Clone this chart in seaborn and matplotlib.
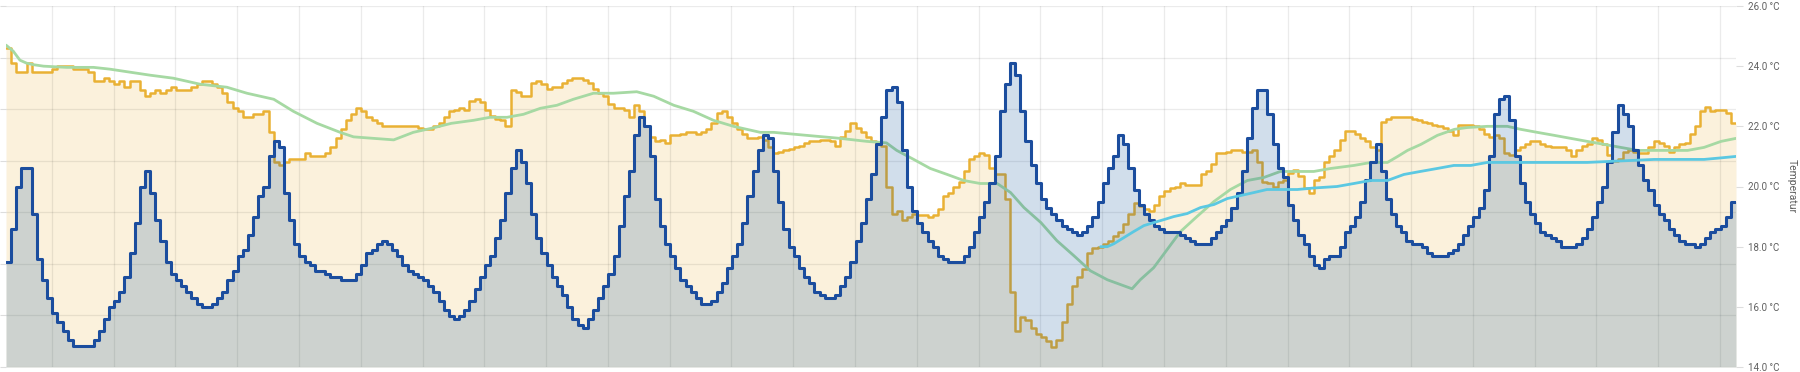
import numpy as np
import pandas as pd
import matplotlib
matplotlib.use("Agg")
import matplotlib.pyplot as plt
import seaborn as sns

# ---- data (hourly readings, 14 days) ----
outdoor = [
    17.5, 18.6, 20.0, 20.6, 20.6, 19.1, 17.6, 16.9, 16.3, 15.8,
    15.5, 15.2, 14.9, 14.7, 14.7, 14.7, 14.7, 14.9, 15.2, 15.6,
    16.0, 16.2, 16.5, 17.0, 17.8, 18.8, 20.0, 20.5, 19.8, 18.9,
    18.2, 17.5, 17.1, 16.9, 16.7, 16.5, 16.3, 16.1, 16.0, 16.0,
    16.1, 16.3, 16.5, 16.9, 17.2, 17.7, 17.9, 18.4, 19.0, 19.7,
    20.0, 21.0, 21.5, 21.3, 19.8, 18.9, 18.1, 17.7, 17.5, 17.4,
    17.2, 17.2, 17.1, 17.0, 17.0, 16.9, 16.9, 16.9, 17.1, 17.4,
    17.8, 17.9, 18.1, 18.2, 18.1, 17.9, 17.7, 17.4, 17.2, 17.1,
    17.0, 16.9, 16.7, 16.5, 16.2, 15.9, 15.7, 15.6, 15.7, 15.9,
    16.2, 16.6, 17.0, 17.4, 17.7, 18.3, 18.9, 19.8, 20.6, 21.2,
    20.8, 20.1, 19.1, 18.3, 17.8, 17.4, 17.0, 16.7, 16.4, 16.0,
    15.6, 15.4, 15.3, 15.6, 15.9, 16.3, 16.7, 17.1, 17.7, 18.7,
    19.7, 20.5, 21.7, 22.3, 22.0, 21.0, 19.6, 18.7, 18.1, 17.7,
    17.3, 16.9, 16.7, 16.5, 16.3, 16.1, 16.1, 16.2, 16.5, 16.8,
    17.3, 17.7, 18.1, 18.8, 19.7, 20.5, 21.2, 21.7, 21.6, 20.5,
    19.5, 18.6, 18.0, 17.7, 17.3, 17.0, 16.8, 16.5, 16.4, 16.3,
    16.3, 16.4, 16.7, 17.0, 17.5, 18.2, 18.8, 19.6, 20.4, 21.4,
    22.3, 23.2, 23.3, 22.8, 21.2, 20.0, 19.2, 18.8, 18.5, 18.2,
    18.0, 17.7, 17.6, 17.5, 17.5, 17.5, 17.7, 18.0, 18.5, 19.0,
    19.5, 20.1, 21.0, 22.5, 23.4, 24.1, 23.7, 22.5, 21.5, 20.7,
    20.1, 19.6, 19.3, 19.1, 18.9, 18.7, 18.6, 18.5, 18.4, 18.5,
    18.7, 19.0, 19.5, 20.1, 20.6, 21.0, 21.7, 21.4, 20.6, 19.9,
    19.4, 19.1, 18.9, 18.7, 18.6, 18.5, 18.5, 18.5, 18.4, 18.3,
    18.2, 18.1, 18.1, 18.1, 18.3, 18.5, 18.7, 18.9, 19.3, 19.8,
    20.5, 21.6, 22.6, 23.2, 23.2, 22.4, 21.4, 20.6, 20.3, 19.4,
    18.9, 18.4, 18.1, 17.7, 17.4, 17.3, 17.6, 17.7, 17.7, 18.0,
    18.5, 18.7, 19.0, 19.5, 20.2, 20.8, 21.4, 20.5, 19.6, 19.1,
    18.7, 18.5, 18.2, 18.1, 18.1, 18.0, 17.8, 17.7, 17.7, 17.7,
    17.8, 17.9, 18.1, 18.4, 18.7, 19.0, 19.3, 19.9, 21.0, 22.4,
    22.9, 23.0, 22.2, 21.0, 20.1, 19.5, 19.1, 18.8, 18.5, 18.4,
    18.3, 18.2, 18.0, 18.0, 18.0, 18.1, 18.3, 18.6, 19.0, 19.5,
    20.0, 20.8, 21.8, 22.7, 22.4, 22.0, 21.2, 20.7, 20.2, 19.9,
    19.4, 19.1, 18.9, 18.6, 18.4, 18.2, 18.1, 18.1, 18.0, 18.1,
    18.3, 18.5, 18.6, 18.7, 19.0, 19.5,
]

room = [
    24.6, 24.1, 23.8, 23.8, 24.1, 23.8, 23.8, 23.8, 23.8, 23.9,
    24.0, 24.0, 24.0, 23.9, 23.9, 23.9, 23.8, 23.5, 23.5, 23.6,
    23.5, 23.4, 23.5, 23.3, 23.5, 23.5, 23.2, 23.0, 23.1, 23.2,
    23.1, 23.2, 23.3, 23.2, 23.2, 23.2, 23.3, 23.4, 23.5, 23.5,
    23.4, 23.3, 23.1, 22.8, 22.6, 22.5, 22.3, 22.3, 22.4, 22.4,
    22.5, 21.8, 20.8, 20.7, 20.8, 20.9, 20.9, 20.9, 21.1, 21.0,
    21.0, 21.0, 21.1, 21.3, 21.6, 21.9, 22.2, 22.4, 22.6, 22.5,
    22.3, 22.2, 22.1, 22.0, 22.0, 22.0, 22.0, 22.0, 22.0, 22.0,
    21.95, 21.9, 21.9, 22.0, 22.1, 22.3, 22.5, 22.55, 22.6, 22.55,
    22.85, 22.9, 22.8, 22.55, 22.35, 22.25, 22.2, 22.0, 23.2, 23.15,
    23.0, 23.0, 23.45, 23.5, 23.4, 23.25, 23.3, 23.3, 23.45, 23.55,
    23.6, 23.6, 23.55, 23.45, 23.25, 23.1, 23.0, 22.75, 22.6, 22.6,
    22.55, 22.3, 22.7, 22.5, 22.0, 21.65, 21.5, 21.55, 21.45, 21.7,
    21.7, 21.75, 21.8, 21.8, 21.75, 21.8, 21.9, 22.1, 22.45, 22.5,
    22.3, 22.1, 21.9, 21.75, 21.6, 21.6, 21.65, 21.55, 21.3, 21.1,
    21.15, 21.2, 21.25, 21.3, 21.35, 21.45, 21.5, 21.5, 21.55, 21.55,
    21.5, 21.35, 21.65, 21.85, 22.1, 21.95, 21.8, 21.65, 21.5, 21.4,
    21.35, 20.0, 19.1, 19.2, 18.9, 19.0, 19.1, 19.05, 19.05, 19.0,
    19.05, 19.25, 19.7, 19.8, 20.0, 20.15, 20.5, 20.9, 21.0, 21.1,
    21.05, 20.6, 20.4, 20.4, 19.6, 16.5, 15.2, 15.65, 15.55, 15.3,
    15.1, 15.0, 14.85, 14.65, 14.9, 15.5, 16.1, 16.7, 17.0, 17.25,
    17.8, 17.95, 18.0, 18.1, 18.2, 18.35, 18.5, 18.75, 19.1, 19.45,
    19.35, 19.25, 19.2, 19.4, 19.7, 19.85, 19.95, 20.0, 20.1, 20.05,
    20.05, 20.05, 20.4, 20.5, 20.75, 21.1, 21.1, 21.15, 21.2, 21.2,
    21.15, 21.15, 21.2, 20.8, 20.15, 20.1, 20.0, 20.15, 20.2, 20.45,
    20.55, 20.35, 19.95, 19.8, 20.2, 20.3, 20.8, 21.0, 21.2, 21.55,
    21.85, 21.85, 21.75, 21.6, 21.5, 21.3, 21.2, 22.15, 22.25, 22.3,
    22.3, 22.3, 22.3, 22.25, 22.2, 22.15, 22.1, 22.05, 22.0, 21.95,
    21.85, 21.7, 22.05, 22.05, 22.05, 22.0, 21.9, 21.75, 21.65, 21.7,
    21.6, 21.1, 21.05, 21.2, 21.3, 21.4, 21.5, 21.5, 21.4, 21.35,
    21.3, 21.3, 21.3, 21.2, 21.0, 21.2, 21.35, 21.4, 21.6, 21.55,
    21.4, 21.05, 20.85, 20.9, 21.15, 21.2, 21.15, 21.1, 21.1, 21.3,
    21.5, 21.45, 21.35, 21.15, 21.3, 21.4, 21.45, 21.75, 22.0, 22.5,
    22.65, 22.5, 22.55, 22.55, 22.45, 22.1,
]

avg_hours = [
    0, 1.4, 2.7, 4, 5.3, 7.3, 11.8, 17, 20.2, 24.1, 28, 32.5, 37.7, 42.9,
    46.8, 52, 55.8, 60.4, 64.9, 67.5, 71.4, 75.3, 79.1, 83, 86.5, 90.8, 94,
    97.3, 100.5, 103.8, 107, 110.2, 114.1, 118, 122.5, 125.8, 129.7, 133.5,
    137.4, 141.3, 146.5, 149.1, 155.5, 162, 167.2, 171, 173, 176.3, 179.5,
    182.8, 186, 189.2, 192.5, 195.1, 197.7, 201, 204.1, 207.4, 210.6, 213.9,
    217.1, 218.7, 220.3, 222.9, 225.5, 228.1, 231.3, 234.6, 237.8, 241.1,
    244.3, 247.5, 250.8, 254, 257.3, 261.8, 265.1, 268.3, 270.3, 272.2,
    274.8, 278, 281.3, 283.8, 287.7, 291.6, 294.2, 297.4, 300.7, 303.9,
    307.1, 310.4, 313.6, 316.9, 320.1, 323.4, 326.6, 329.8, 333.1, 336,
]
avg_temp = [
    24.7, 24.5, 24.2, 24.1, 24.05, 24.0, 23.96, 23.96, 23.9, 23.8, 23.7,
    23.6, 23.4, 23.3, 23.1, 22.9, 22.5, 22.1, 21.8, 21.65, 21.6, 21.55,
    21.8, 21.95, 22.1, 22.2, 22.3, 22.3, 22.4, 22.6, 22.7, 22.9, 23.1,
    23.1, 23.15, 23.0, 22.7, 22.5, 22.2, 22.0, 21.8, 21.8, 21.7, 21.6,
    21.5, 21.45, 21.2, 20.9, 20.6, 20.4, 20.2, 20.1, 20.1, 19.8, 19.3,
    18.8, 18.2, 17.7, 17.2, 16.9, 16.7, 16.6, 16.9, 17.3, 17.9, 18.5,
    19.0, 19.5, 19.9, 20.2, 20.3, 20.5, 20.5, 20.5, 20.6, 20.7, 20.8,
    20.8, 21.0, 21.2, 21.4, 21.7, 21.9, 21.96, 22.0, 22.0, 21.9, 21.8,
    21.7, 21.6, 21.5, 21.4, 21.3, 21.2, 21.2, 21.2, 21.2, 21.3, 21.5, 21.6,
]

floor_hours = [
    212.6, 213.9, 215.2, 217.1, 219.0, 221.0, 222.9, 224.9, 226.8, 229.4,
    232.0, 234.6, 237.2, 239.8, 242.4, 244.9, 247.5, 250.8, 254.0, 258.5,
    261.8, 265.0, 268.3, 271.5, 274.7, 278.0, 281.2, 284.5, 287.7, 291.0,
    294.2, 300.7, 307.1, 313.6, 320.1, 326.6, 329.8, 333.0, 336.0,
]
floor_temp = [
    18.0, 18.0, 18.1, 18.3, 18.5, 18.7, 18.8, 18.9, 19.0, 19.1,
    19.3, 19.4, 19.6, 19.7, 19.8, 19.9, 19.9, 19.9, 19.95, 20.0,
    20.1, 20.2, 20.2, 20.4, 20.5, 20.6, 20.7, 20.7, 20.8, 20.8,
    20.8, 20.8, 20.8, 20.85, 20.9, 20.9, 20.9, 20.95, 21.0,
]

y_ticks = [14, 16, 18, 20, 22, 24, 26]

# step series: repeat last value so the final step reaches the right edge
hours = np.arange(len(outdoor) + 1)
steps = pd.DataFrame({
    "hour": hours,
    "outdoor": outdoor + [outdoor[-1]],
    "room": room + [room[-1]],
})
avg = pd.DataFrame({"hour": avg_hours, "temp": avg_temp})
floor = pd.DataFrame({"hour": floor_hours, "temp": floor_temp})

sns.set_theme(style="white")
plt.rcParams["font.family"] = ["Roboto", "DejaVu Sans"]

fig = plt.figure(figsize=(18, 3.72), dpi=100)
ax = fig.add_axes([6 / 1800, 5 / 372, 1730 / 1800, 361 / 372])

ymin, ymax = 14, 26
ax.set_xlim(0, 336)
ax.set_ylim(ymin, ymax)

# fills
ax.fill_between(steps["hour"], ymin, steps["room"], step="post",
                color="#fbf1dc", linewidth=0, zorder=1)
sns.lineplot(data=steps, x="hour", y="room", drawstyle="steps-post",
             color="#e9b134", linewidth=1.8, ax=ax, zorder=2)
sns.lineplot(data=avg, x="hour", y="temp", color="#a6d9a3",
             linewidth=2.0, ax=ax, zorder=2)
ax.fill_between(steps["hour"], ymin, steps["outdoor"], step="post",
                color="#004a94", alpha=0.18, linewidth=0, zorder=2.5)
sns.lineplot(data=steps, x="hour", y="outdoor", drawstyle="steps-post",
             color="#1b4d9e", linewidth=2.2, ax=ax, zorder=3)
sns.lineplot(data=floor, x="hour", y="temp", color="#5bc8e2",
             linewidth=2.0, ax=ax, zorder=3.2)

# grid: 12h vertical lines, 7 horizontal bands from hidden left scale
ax.set_xticks(8.9 + 12 * np.arange(28))
ax.set_yticks(ymin + (ymax - ymin) / 7 * np.arange(8))
ax.set_axisbelow("line")
ax.grid(True, color="black", alpha=0.08, linewidth=0.9)
ax.tick_params(axis="x", length=0, labelbottom=False)
ax.tick_params(axis="y", length=4, width=0.8, color="#dddddd",
               labelleft=False, left=True, direction="out")
ax.set_xlabel("")
ax.set_ylabel("")
for s in ax.spines.values():
    s.set_visible(False)

ax2 = ax.twinx()
ax2.set_ylim(ymin, ymax)
ax2.set_yticks(y_ticks)
ax2.set_yticklabels([f"{v:.1f} °C" for v in y_ticks])
ax2.tick_params(axis="y", length=5, width=0.8, color="#dddddd",
                labelsize=7, labelcolor="#5f5f5f", pad=4, right=True)
ax2.grid(False)
for s in ax2.spines.values():
    s.set_visible(False)
ax2.set_ylabel("Temperatur", rotation=270, fontsize=7.5, color="#5f5f5f",
               labelpad=12)

fig.savefig("out.png", dpi=100)
